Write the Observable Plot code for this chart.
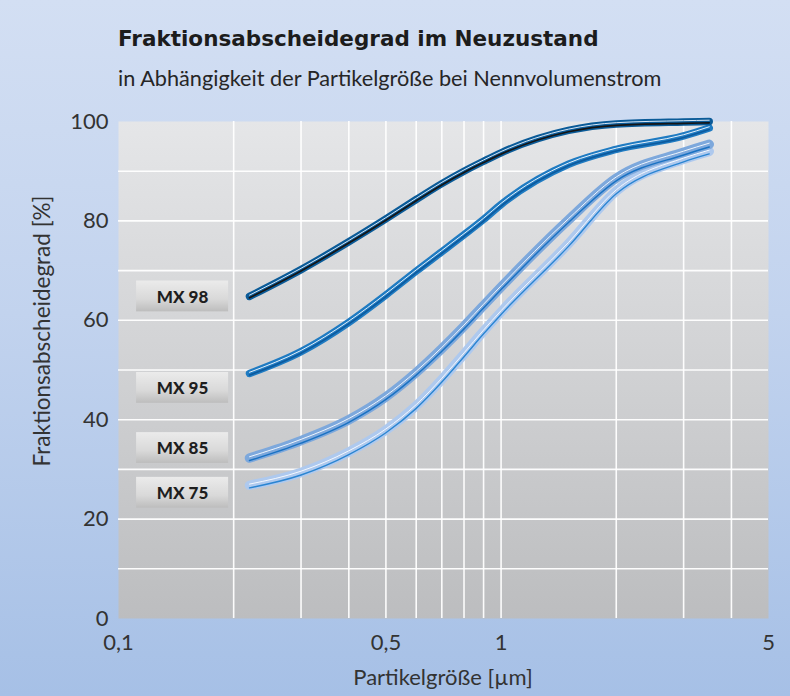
<!DOCTYPE html>
<html><head><meta charset="utf-8">
<script src="https://cdn.jsdelivr.net/npm/d3@7"></script>
<script src="https://cdn.jsdelivr.net/npm/@observablehq/plot@0.6"></script>
<style>
html,body{margin:0;padding:0;}
body{width:790px;height:696px;overflow:hidden;position:relative;
  background:linear-gradient(to bottom,#d3dff3 0%,#c2d3ee 45%,#a6c0e6 100%);
  font-family:Lato,"Open Sans",sans-serif;color:#333;}
#title{position:absolute;left:118px;top:26px;font-family:"DejaVu Sans",sans-serif;font-size:21.5px;font-weight:700;color:#1c1c1c;white-space:nowrap;}
#subtitle{position:absolute;left:118px;top:65px;font-size:21.7px;color:#262626;white-space:nowrap;}
#chart{position:absolute;left:0;top:100px;}
#ylabel{position:absolute;left:-158px;top:318px;width:400px;height:26px;line-height:26px;text-align:center;transform:rotate(-90deg);white-space:nowrap;font-size:22.5px;color:#333;}
#xlabel{position:absolute;left:243px;top:663px;width:400px;height:28px;line-height:28px;text-align:center;white-space:nowrap;font-size:22px;color:#333;}
</style></head>
<body>
<div id="title">Fraktionsabscheidegrad im Neuzustand</div>
<div id="subtitle">in Abhängigkeit der Partikelgröße bei Nennvolumenstrom</div>
<div id="chart"></div>
<div id="ylabel">Fraktionsabscheidegrad [%]</div>
<div id="xlabel">Partikelgröße [µm]</div>
<script>
// particle size [µm]
const sizes = [0.22, 0.3, 0.4, 0.5, 0.6, 0.7, 0.8, 0.9, 1, 1.5, 2, 3, 3.5];
// fractional separation efficiency [%]
const mx98 = [64.8, 70.2, 75.8, 80.4, 84.3, 87.5, 90.0, 92.0, 93.7, 98.2, 99.5, 99.9, 100];
const mx95 = [49.3, 53.7, 59.6, 65.1, 69.9, 73.8, 77.2, 80.3, 83.3, 91.4, 94.4, 97.1, 98.7];
const mx85 = [32.3, 35.8, 40.0, 44.6, 49.5, 54.3, 58.8, 63.0, 66.7, 80.2, 88.6, 93.8, 95.4];
const mx75 = [26.8, 29.4, 33.5, 37.9, 42.8, 48.1, 53.2, 57.8, 61.7, 75.4, 86.0, 92.4, 94.0];

const labelNames = ["MX 98", "MX 95", "MX 85", "MX 75"];
const labelY = [64.8, 46.4, 34.3, 25.3];
const labelX = [0.1115, 0.194];

const xTicks = [0.1, 0.5, 1, 5];
const yTicks = [0, 20, 40, 60, 80, 100];
const gridX = [0.2, 0.3, 0.4, 0.5, 0.6, 0.7, 0.8, 0.9, 1, 2, 3, 4];
const gridY = [10, 20, 30, 40, 50, 60, 70, 80, 90];

const toRows = vals => sizes.map((s, i) => ({x: s, y: vals[i]}));

const styles = [
  {vals: mx75, outer: "#aec9ee", ow: 9.5, core: "#2a85d2", cw: 1.4, cdy: 2.6, hi: "#f4f8fe", hdy: -1.2},
  {vals: mx85, outer: "#7da8dc", ow: 9.5, core: "#1a72c3", cw: 1.5, cdy: 2.6, hi: "#eef5fd", hdy: -1.2},
  {vals: mx95, outer: "#1f7bc2", ow: 7.5, core: "#0c5a9e", cw: 1.6, cdy: 1.6, hi: "#e4f0fb", hdy: -1.2},
  {vals: mx98, outer: "#0b5b98", ow: 7.5, core: "#151515", cw: 1.7, cdy: 1.3, hi: "#d6e6f5", hdy: -1.3}
];

const lineMarks = [];
for (const s of styles) {
  const rows = toRows(s.vals);
  lineMarks.push(Plot.line(rows, {x: "x", y: "y", curve: "monotone-x", stroke: s.outer, strokeWidth: s.ow, strokeLinecap: "round"}));
  lineMarks.push(Plot.line(rows, {x: "x", y: "y", curve: "monotone-x", stroke: s.core, strokeWidth: s.cw, dy: s.cdy}));
  lineMarks.push(Plot.line(rows, {x: "x", y: "y", curve: "monotone-x", stroke: s.hi, strokeWidth: 1, dy: s.hdy}));
}

const labels = labelNames.map((n, i) => ({name: n, y: labelY[i]}));
const cx = Math.sqrt(labelX[0] * labelX[1]);

const chart = Plot.plot({
  width: 790, height: 596,
  marginTop: 21, marginBottom: 78, marginLeft: 118, marginRight: 22,
  style: {background: "transparent", fontFamily: "Lato, 'Open Sans', sans-serif", fontSize: "22px", color: "#333", overflow: "visible"},
  x: {type: "log", domain: [0.1, 5]},
  y: {domain: [0, 100]},
  marks: [
    Plot.frame({fill: "url(#plotGrad)", stroke: "none"}),
    Plot.ruleX(gridX, {stroke: "#ffffff", strokeWidth: 1.6, strokeOpacity: 0.95}),
    Plot.ruleY(gridY, {stroke: "#ffffff", strokeWidth: 1.6, strokeOpacity: 0.95}),
    Plot.axisX(xTicks, {tickSize: 0, tickPadding: 16, label: null, fontSize: 22,
      tickFormat: d => String(d).replace(".", ",")}),
    Plot.axisY(yTicks, {tickSize: 0, tickPadding: 10, label: null, fontSize: 22}),
    Plot.rect(labels, {x1: () => labelX[0], x2: () => labelX[1], y1: d => d.y - 3.1, y2: d => d.y + 3.1, fill: "url(#boxGrad)"}),
    Plot.text(labels, {x: () => cx, y: "y", text: "name", fontSize: 17, fontWeight: 900, fill: "#1e1e1e", dy: 1}),
    ...lineMarks
  ]
});

d3.select(chart).insert("defs", ":first-child").html(`
  <linearGradient id="plotGrad" x1="0" y1="0" x2="0" y2="1">
    <stop offset="0" stop-color="#e5e6e8"/>
    <stop offset="1" stop-color="#bcbdbf"/>
  </linearGradient>
  <linearGradient id="boxGrad" x1="0" y1="0" x2="0" y2="1">
    <stop offset="0" stop-color="#ebebeb"/>
    <stop offset="0.6" stop-color="#d9d9d9"/>
    <stop offset="1" stop-color="#bdbdbd"/>
  </linearGradient>`);

document.getElementById("chart").appendChild(chart);
</script>
</body></html>
